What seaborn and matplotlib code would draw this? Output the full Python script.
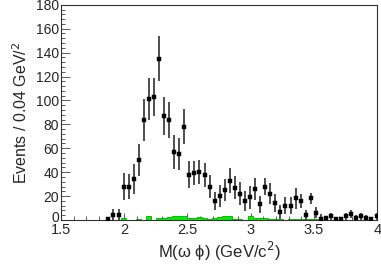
import numpy as np
import pandas as pd
import matplotlib
matplotlib.use("Agg")
import matplotlib.pyplot as plt
import seaborn as sns
from matplotlib.ticker import MultipleLocator, FuncFormatter

# bin layout (0.04 GeV bins), first filled bin
bin_width = 0.04
first_edge = 1.855

# data: events per bin
events = [1, 4, 4, 28, 28, 34, 50, 84, 101, 103, 135, 87, 84, 57, 55, 78,
          38, 39, 40, 38, 28, 16, 20, 25, 33, 27, 22, 16, 19, 26, 13, 28,
          22, 14, 7, 12, 12, 18, 16, 4, 18, 6, 1, 2, 3, 1, 1, 3, 5, 2, 3, 2, 1, 3]
errors = [1, 5, 5, 11, 10.5, 12.5, 13.5, 17.5, 17.5, 16, 19, 15.5, 15, 14, 13.5, 14.5,
          11.5, 10, 10, 10, 9.5, 7.5, 9, 9.5, 10.5, 9.5, 9.5, 8.5, 9.5, 9, 7.2, 7.5,
          9, 7.5, 5.8, 7, 7, 9, 6, 4, 4.2, 4.6, 4, 1.5, 3, 1.5, 1.5, 3, 3, 2.5, 3, 2.5, 1.5, 3]

# green background estimate per bin
background = [0, 0, 0, 2, 0, 0, 0.6, 0, 3, 0, 2, 2, 2.5, 3, 3, 3,
              2, 1.5, 2.5, 1.5, 1, 1.5, 2.5, 3, 3, 1, 1, 0, 3, 2, 1.5, 1.5,
              0.5, 0.5, 1, 0, 1, 1, 1, 1, 1, 0.5, 0, 0, 0, 0, 0, 0, 0, 0, 0, 0, 0, 0]

edges = first_edge + bin_width * np.arange(len(events) + 1)
centers = 0.5 * (edges[:-1] + edges[1:])

df = pd.DataFrame({"mass": centers, "events": events, "err": errors, "bkg": background})

sns.set_style("ticks")
plt.rcParams['font.family'] = ['Liberation Sans', 'DejaVu Sans']

fig = plt.figure(figsize=(3.81, 2.67), dpi=100)
ax = fig.add_axes([0.160, 0.176, 0.830, 0.806])

# background histogram
sns.histplot(data=df, x="mass", weights="bkg", bins=edges.tolist(), element="step",
             fill=True, color="#00ee00", alpha=1.0, edgecolor="#00aa00",
             linewidth=0.6, ax=ax)

# data points
ax.errorbar(df["mass"], df["events"], yerr=df["err"], fmt="none",
            ecolor="0.25", elinewidth=1.3, capsize=0, zorder=3)
sns.scatterplot(data=df, x="mass", y="events", marker="s", s=7, color="black",
                edgecolor="black", linewidth=0.3, ax=ax, zorder=4)

ax.set_xlim(1.5, 4.0)
ax.set_ylim(0, 180)
ax.xaxis.set_major_locator(MultipleLocator(0.5))
ax.xaxis.set_minor_locator(MultipleLocator(0.1))
ax.yaxis.set_major_locator(MultipleLocator(20))
ax.yaxis.set_minor_locator(MultipleLocator(4))
ax.xaxis.set_major_formatter(FuncFormatter(lambda v, p: f"{v:g}"))
# the "0" label is drawn separately, lifted a bit so it clears "1.5"
ax.yaxis.set_major_formatter(FuncFormatter(lambda v, p: "" if abs(v) < 1e-9 else f"{v:g}"))

ax.tick_params(axis="x", which="major", direction="in", length=4.7, width=0.7,
               labelsize=10.5, pad=2.5, color="0.35")
ax.tick_params(axis="x", which="minor", direction="in", length=2.6, width=0.7, color="0.35")
ax.tick_params(axis="y", which="major", direction="in", length=6.5, width=0.7,
               labelsize=10, pad=1.5, color="0.35")
ax.tick_params(axis="y", which="minor", direction="in", length=3.2, width=0.7, color="0.35")

ax.annotate("0", xy=(0, 0), xycoords=ax.get_yaxis_transform(),
            xytext=(-1.5, 1.8), textcoords="offset points",
            ha="right", va="center", fontsize=10)

for s in ax.spines.values():
    s.set_visible(True)
    s.set_linewidth(0.8)
    s.set_color("0.2")

ax.set_xlabel("M(ω ϕ) (GeV/c$^2$)", fontsize=12, labelpad=2)
ax.set_ylabel(r"Events / 0.04 GeV/$^2$", fontsize=11.5, labelpad=4)

fig.savefig("out.png", dpi=100)
